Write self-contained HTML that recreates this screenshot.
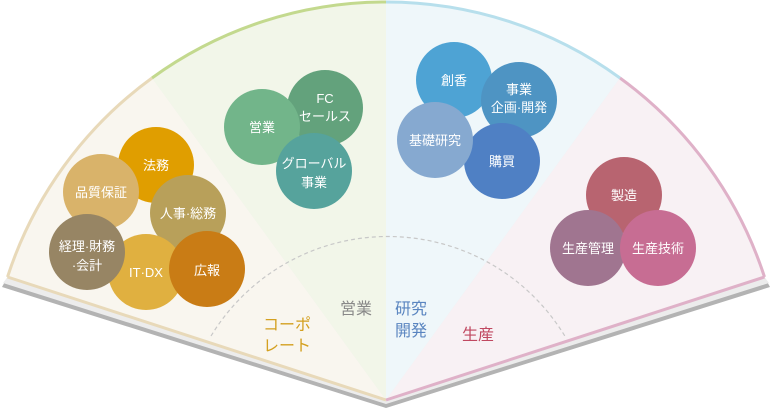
<!DOCTYPE html>
<html><head><meta charset="utf-8"><style>
html,body{margin:0;padding:0;background:#fff;}
svg{display:block;}
text{font-family:"Liberation Sans","Noto Sans CJK JP",sans-serif;}
</style></head><body>
<svg width="772" height="408" viewBox="0 0 772 408" xmlns="http://www.w3.org/2000/svg">
<path d="M386,408 L2,287 L7.5,277 A398,398 0 0 1 764.5,277 L770,287 Z" fill="#b3b3b3"/>
<path d="M386,404 L3,283 L7.5,277 A398,398 0 0 1 764.5,277 L769,283 Z" fill="#ececec"/>
<path d="M386,400 L7.5,277 A398,398 0 0 1 152,78 Z" fill="#f9f6ef"/>
<path d="M386,400 L152,78 A398,398 0 0 1 386,2 Z" fill="#f2f6e9"/>
<path d="M386,400 L386,2 A398,398 0 0 1 620,78 Z" fill="#eff7fa"/>
<path d="M386,400 L620,78 A398,398 0 0 1 764.5,277 Z" fill="#f8f1f4"/>
<path d="M7.5,277 A398,398 0 0 1 152,78" fill="none" stroke="#e8d9b9" stroke-width="3"/>
<path d="M152,78 A398,398 0 0 1 386,2" fill="none" stroke="#c3d98e" stroke-width="3"/>
<path d="M386,2 A398,398 0 0 1 620,78" fill="none" stroke="#b7dfec" stroke-width="3"/>
<path d="M620,78 A398,398 0 0 1 764.5,277" fill="none" stroke="#dfb1c8" stroke-width="3"/>
<path d="M7.5,277 L386,400" stroke="#e8d9b9" stroke-width="3"/>
<path d="M386,400 L764.5,277" stroke="#dfb1c8" stroke-width="3"/>
<path d="M211,336 A207,207 0 0 1 566,338" fill="none" stroke="#c8c8c8" stroke-width="1.2" stroke-dasharray="4,3"/>

<g fill="#fff" font-size="13" text-anchor="middle">
<circle cx="156" cy="165" r="38" fill="#e09e00"/><text x="156" y="170">法務</text>
<circle cx="101" cy="192" r="38" fill="#d9b36a"/><text x="101" y="197">品質保証</text>
<circle cx="188" cy="213" r="38" fill="#b8a05a"/><text x="188" y="218">人事·総務</text>
<circle cx="146" cy="272" r="38" fill="#e0b040"/><text x="146" y="277">IT·DX</text>
<circle cx="87" cy="252" r="38" fill="#978564"/><text x="87" y="251">経理·財務</text><text x="87" y="270">·会計</text>
<circle cx="207" cy="269" r="38" fill="#c97c15"/><text x="207" y="275">広報</text>

<circle cx="325" cy="108" r="38" fill="#63a27c"/><text x="325" y="103">FC</text><text x="325" y="121">セールス</text>
<circle cx="262" cy="127" r="38" fill="#72b58a"/><text x="262" y="132">営業</text>
<circle cx="314" cy="171" r="38" fill="#56a39c"/><text x="314" y="168">グローバル</text><text x="314" y="187">事業</text>

<circle cx="454" cy="80" r="38" fill="#4ea3d4"/><text x="454" y="85">創香</text>
<circle cx="519" cy="100" r="38" fill="#4e94c3"/><text x="519" y="94">事業</text><text x="519" y="112">企画·開発</text>
<circle cx="502" cy="161" r="38" fill="#4f80c4"/><text x="502" y="166">購買</text>
<circle cx="435" cy="140" r="38" fill="#86a9d0"/><text x="435" y="145">基礎研究</text>

<circle cx="624" cy="195" r="38" fill="#b86470"/><text x="624" y="200">製造</text>
<circle cx="588" cy="248" r="38" fill="#a07590"/><text x="588" y="253">生産管理</text>
<circle cx="658" cy="248" r="38" fill="#c76d93"/><text x="658" y="253">生産技術</text>
</g>

<g font-size="16">
<text x="340" y="314" fill="#888">営業</text>
<text x="263" y="330" fill="#d4a020">コーポ</text>
<text x="263" y="351" fill="#d4a020">レート</text>
<text x="395" y="314" fill="#5a85c0">研究</text>
<text x="395" y="336" fill="#5a85c0">開発</text>
<text x="462" y="340" fill="#c04860">生産</text>
</g>
</svg>
</body></html>
